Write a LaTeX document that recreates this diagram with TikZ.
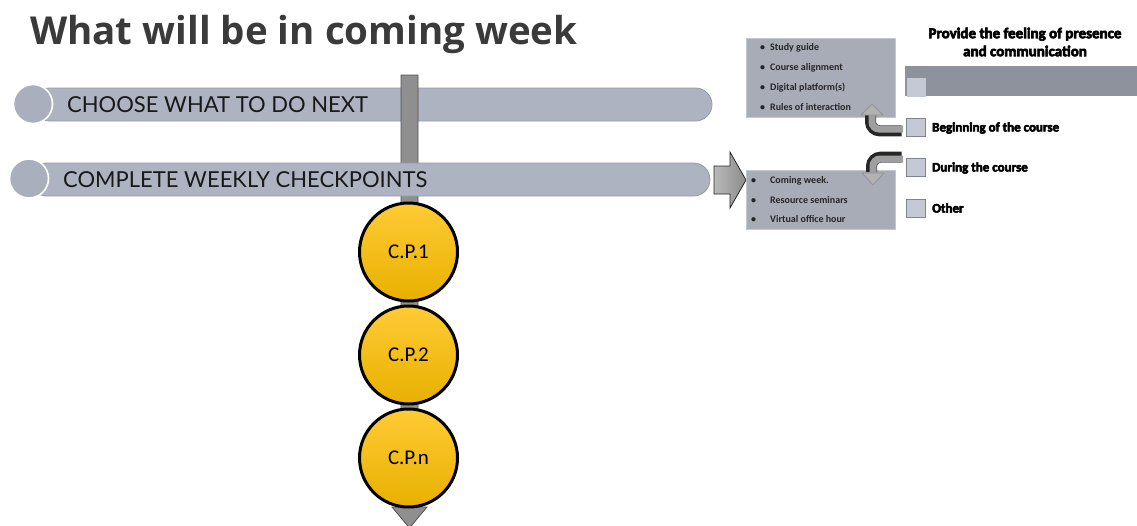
\documentclass[tikz,border=0pt]{standalone}
\usepackage{fontspec}
\setmainfont{Carlito}
\newfontfamily\titlefont{Open Sans}
\newfontfamily\latofont{Lato}
\newfontfamily\heavyfont{Carlito}[BoldFeatures={FakeBold=4}]
\usetikzlibrary{shadings}
\definecolor{barfill}{HTML}{ADB3C1}
\definecolor{baredge}{HTML}{939AA8}
\definecolor{dotfill}{HTML}{A9AFBD}
\definecolor{vbar}{HTML}{8F8F8F}
\definecolor{vedge}{HTML}{505050}
\definecolor{boxfill}{HTML}{A8ACB7}
\definecolor{boxedge}{HTML}{C3C7D0}
\definecolor{bandfill}{HTML}{8E929C}
\definecolor{sqfill}{HTML}{C5C9D5}
\definecolor{sqedge}{HTML}{7F838D}
\definecolor{goldtop}{HTML}{FFCB35}
\definecolor{goldbot}{HTML}{E8B000}
\definecolor{titlegray}{HTML}{3A3A3A}
\tikzset{
  hbar/.style={fill=barfill, draw=baredge, line width=0.8, rounded corners=16.5},
  dot/.style={circle, minimum size=39, inner sep=0, fill=dotfill, draw=white, line width=1.6},
  bartext/.style={anchor=west, inner sep=0, font=\latofont\fontsize{22}{27}\selectfont, text=black!90},
  cpnode/.style={circle, minimum size=98, inner sep=0, draw=black, line width=3,
    top color=goldtop, bottom color=goldbot, font=\fontsize{21}{25}\selectfont},
  infobox/.style={fill=boxfill, draw=boxedge, line width=0.6},
  item/.style={anchor=west, inner sep=0, font=\bfseries\fontsize{10}{12}\selectfont, text=black!85},
  square/.style={fill=sqfill, draw=sqedge, line width=0.7},
  heavylabel/.style={anchor=west, inner sep=0, font=\heavyfont\bfseries\fontsize{13}{15}\selectfont},
  bentblack/.style={draw=black!85, line width=11, rounded corners=9},
  bentgray/.style={draw=gray!75, line width=7, rounded corners=7},
  bentheadstyle/.style={fill=gray!60, draw=gray!85, line width=0.8, line join=round}
}
\begin{document}
\begin{tikzpicture}[x=1pt, y=-1pt]
\useasboundingbox (0,0) rectangle (1137,525);

% title
\node[anchor=base west, inner sep=0, font=\titlefont\bfseries\fontsize{38.5}{44}\selectfont, text=titlegray]
  (title) at (30,44) {What will be in coming week};

% bar 1 (behind the vertical bar)
\draw[hbar] (33,88) rectangle (712,121);
\node[dot] (dot1) at (33,104) {};
\node[bartext] (bar1) at (67,104.5) {CHOOSE WHAT TO DO NEXT};

% vertical bar with arrow
\draw[fill=vbar, draw=vedge, line width=0.8, line join=miter]
  (401,75) -- (418,75) -- (418,507) -- (427,507) -- (409.5,528) -- (392,507) -- (401,507) -- cycle;

% bar 2 (in front of the vertical bar)
\draw[hbar] (30,163) rectangle (710,196);
\node[dot] (dot2) at (29,178.5) {};
\node[bartext] (bar2) at (63,179.5) {COMPLETE WEEKLY CHECKPOINTS};

% checkpoints
\node[cpnode] (cp1) at (408.5,252) {C.P.1};
\node[cpnode] (cp2) at (408.5,355) {C.P.2};
\node[cpnode] (cpn) at (408.5,458) {C.P.n};

% right arrow
\draw[left color=gray!55, right color=gray!90, draw=black!85, line width=0.8, line join=miter]
  (714,166) -- (730,166) -- (730,152) -- (746,180) -- (730,208) -- (730,194) -- (714,194) -- cycle;

% boxes
\draw[infobox] (746,38) rectangle (895,117);
\node[item] (i1) at (760,48) {\makebox[10pt][l]{\textbullet}Study guide};
\node[item] (i2) at (760,68) {\makebox[10pt][l]{\textbullet}Course alignment};
\node[item] (i3) at (760,88) {\makebox[10pt][l]{\textbullet}Digital platform(s)};
\node[item] (i4) at (760,107.5) {\makebox[10pt][l]{\textbullet}Rules of interaction};

\draw[infobox] (746,170) rectangle (895,229);
\node[item] (j1) at (751,181) {\makebox[19pt][l]{\textbullet}Coming week.};
\node[item] (j2) at (751,200) {\makebox[19pt][l]{\textbullet}Resource seminars};
\node[item] (j3) at (751,219.5) {\makebox[19pt][l]{\textbullet}Virtual office hour};

% bent arrows
\coordinate (a1s) at (903,129);
\coordinate (a1e) at (872,113);
\draw[bentblack] ([shift={(-1.5,1.8)}]a1s) -| ([shift={(-1.5,1.8)}]a1e);
\draw[bentgray] (a1s) -| (a1e);
\draw[bentheadstyle] (861,115) -- (883,115) -- (872,104) -- cycle;

\coordinate (a2s) at (903,159);
\coordinate (a2e) at (873,174);
\draw[bentblack] ([shift={(-1.5,-1.8)}]a2s) -| ([shift={(-1.5,-1.8)}]a2e);
\draw[bentgray] (a2s) -| (a2e);
\draw[bentheadstyle] (862,173) -- (884,173) -- (873,185) -- cycle;

% right column
\node[align=center, inner sep=0, font=\heavyfont\bfseries\fontsize{15}{18}\selectfont]
  (rtitle) at (1025,42) {Provide the feeling of presence\\and communication};
\fill[bandfill] (905,66) rectangle (1137,96);
\draw[fill=sqfill, draw=boxedge, line width=0.6] (907,78) rectangle (925,96);

\draw[square] (906,118) rectangle (925,136);
\node[heavylabel] (l1) at (932,128) {Beginning of the course};
\draw[square] (906,158) rectangle (925,176);
\node[heavylabel] (l2) at (932,168) {During the course};
\draw[square] (906,199) rectangle (925,217);
\node[heavylabel] (l3) at (932,208) {Other};
\end{tikzpicture}
\end{document}
